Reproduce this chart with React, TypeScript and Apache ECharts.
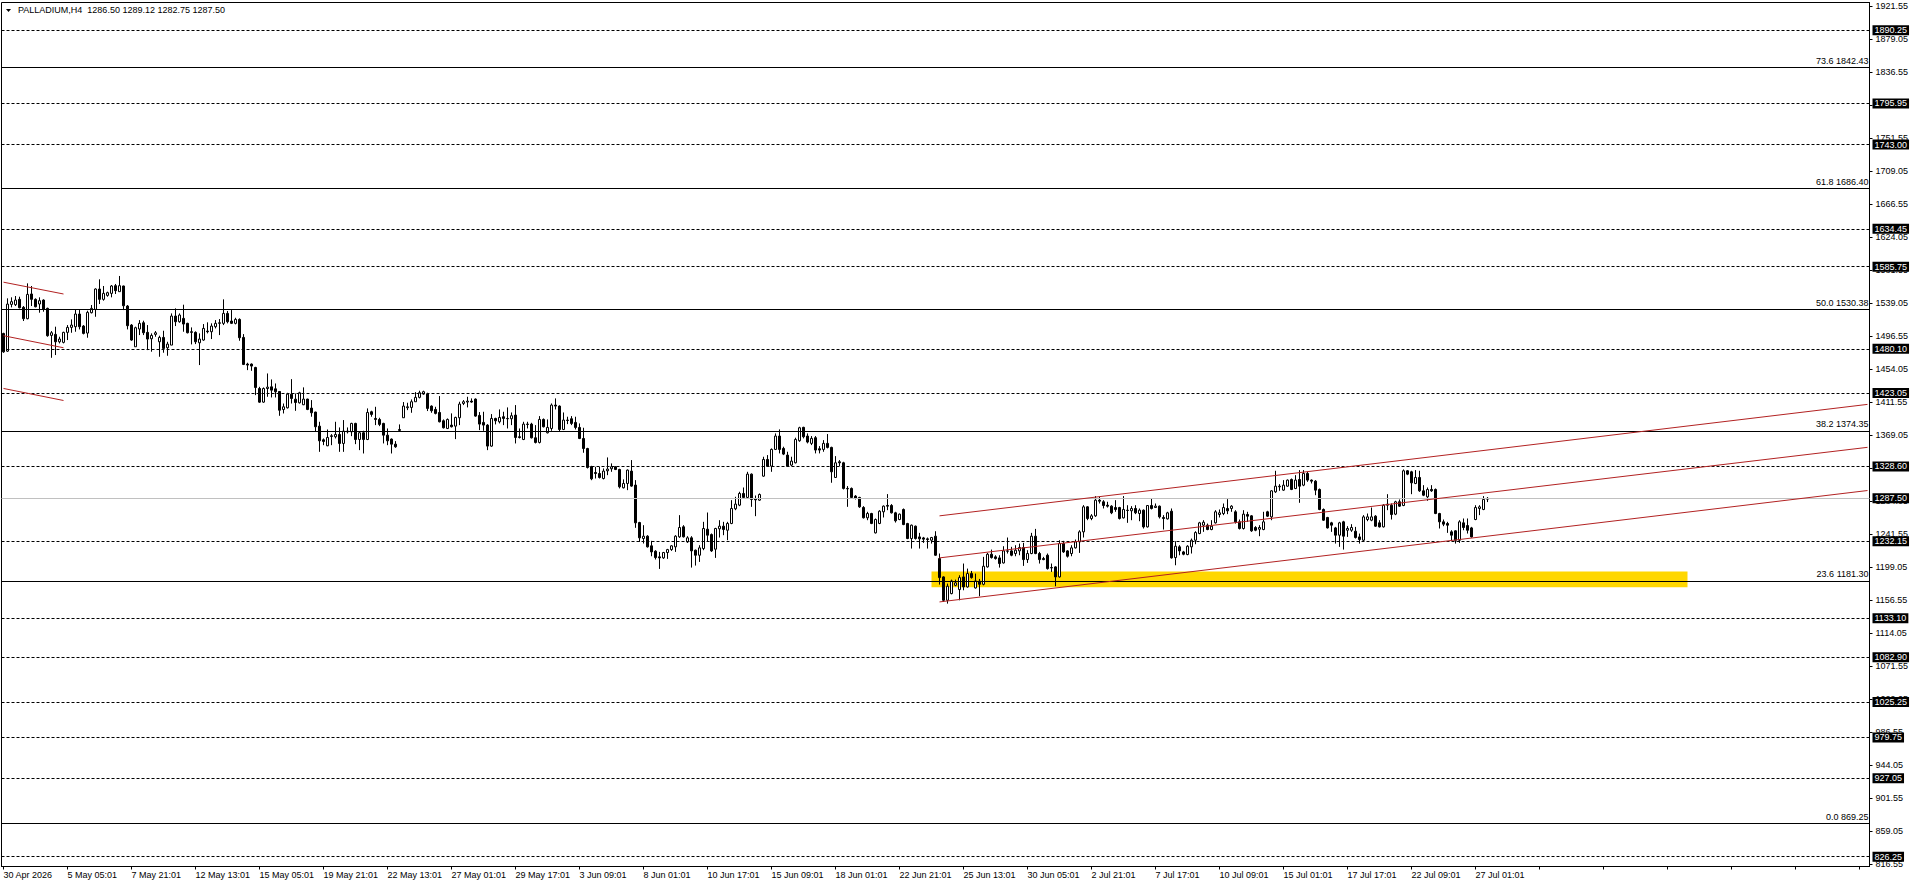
import React, { useEffect, useRef } from "react";
import * as echarts from "echarts";

// ---- axis texts ----
const xLabels = [
  "30 Apr 2026", "5 May 05:01", "7 May 21:01", "12 May 13:01", "15 May 05:01", "19 May 21:01",
  "22 May 13:01", "27 May 01:01", "29 May 17:01", "3 Jun 09:01", "8 Jun 01:01", "10 Jun 17:01",
  "15 Jun 09:01", "18 Jun 01:01", "22 Jun 21:01", "25 Jun 13:01", "30 Jun 05:01", "2 Jul 21:01",
  "7 Jul 17:01", "10 Jul 09:01", "15 Jul 01:01", "17 Jul 17:01", "22 Jul 09:01", "27 Jul 01:01",
];
const yTicks = [
  816.55, 859.05, 901.55, 944.05, 986.55, 1029.05, 1071.55, 1114.05, 1156.55, 1199.05, 1241.55,
  1284.05, 1326.55, 1369.05, 1411.55, 1454.05, 1496.55, 1539.05, 1581.55, 1624.05, 1666.55,
  1709.05, 1751.55, 1794.05, 1836.55, 1879.05, 1921.55,
];

// ---- H4 candles (0..371) ----
const opens = [
  1499.8,1477.0,1537.2,1536.8,1543.7,1533.4,1518.8,1550.6,1543.7,1537.7,1542.8,1532.1,1497.3,1498.6,1489.1,1488.3,1501.2,1507.6,1508.5,1524.8,1509.3,1500.3,1526.5,1530.8,1557.0,1543.7,1548.8,1551.4,1561.3,1553.6,1560.9,1535.1,1510.6,1482.7,1505.5,1513.6,1501.2,1493.0,1498.6,1489.1,1494.7,1481.4,1484.8,1522.2,1514.9,1519.2,1512.8,1502.0,1501.2,1487.8,1491.3,1502.9,1502.0,1508.5,1512.8,1512.8,1525.6,1515.8,1512.8,1517.9,1494.7,1460.4,1460.4,1456.0,1428.9,1411.4,1428.9,1431.1,1428.5,1425.1,1401.9,1404.1,1421.7,1415.2,1410.5,
  1408.0,1415.3,1403.7,1398.6,1380.5,1362.9,1355.2,1367.2,1366.8,1369.8,1358.2,1374.1,1373.2,1384.0,1363.3,1372.0,1363.3,1399.0,1390.4,1389.1,1384.0,1368.9,1363.8,1357.3,1374.9,1391.3,1404.2,1404.6,1411.9,1417.5,1421.8,1421.8,1406.3,1402.0,1398.1,1387.4,1377.5,1381.8,1380.5,1391.3,1409.7,1411.5,1412.7,1415.3,1394.3,1385.3,1381.8,1354.8,1390.4,1386.1,1392.6,1390.4,1390.0,1394.7,1366.8,1363.3,1383.1,1383.1,1365.5,1359.5,1389.1,1371.9,1377.5,1407.6,1406.3,1376.2,1388.3,1390.0,1385.3,1378.8,1364.6,1351.7,1328.5,1320.8,1319.5,
  1313.1,1323.0,1325.6,1328.2,1324.7,1301.1,1306.7,1322.6,1304.6,1256.4,1235.8,1238.8,1226.4,1219.5,1212.2,1210.9,1217.8,1221.6,1225.1,1238.0,1250.9,1231.5,1236.7,1220.8,1214.3,1222.9,1247.8,1240.9,1222.1,1248.3,1251.7,1246.5,1255.2,1274.1,1278.8,1293.8,1288.7,1318.7,1286.9,1285.2,1316.1,1337.6,1329.0,1350.5,1367.7,1351.8,1343.2,1330.3,1333.3,1361.7,1378.9,1367.7,1358.3,1365.6,1351.4,1350.5,1358.3,1353.1,1314.4,1334.6,1333.3,1300.3,1300.3,1290.4,1288.7,1275.8,1262.5,1268.0,1243.1,1255.2,1270.2,1278.4,1278.4,1268.9,1260.3,
  1273.2,1255.1,1235.8,1251.7,1237.9,1236.6,1235.4,1233.6,1238.8,1210.0,1186.4,1156.3,1164.9,1175.6,1170.1,1186.4,1173.5,1190.7,1172.2,1180.8,1176.9,1199.3,1215.6,1212.2,1210.9,1204.4,1219.9,1219.9,1216.5,1219.9,1224.2,1208.7,1216.5,1238.8,1216.5,1210.0,1214.3,1198.4,1199.3,1186.4,1229.3,1219.9,1216.5,1223.8,1231.5,1244.4,1276.6,1261.6,1265.0,1285.2,1283.1,1278.7,1277.5,1275.7,1275.7,1262.4,1272.3,1271.5,1274.5,1268.0,1272.3,1250.8,1278.3,1275.7,1277.5,1262.9,1261.1,1271.0,1211.3,1225.1,1218.6,1215.2,1225.1,1233.6,1242.2,
  1253.0,1253.0,1247.4,1256.0,1266.7,1268.0,1274.5,1274.5,1270.2,1257.3,1248.7,1266.7,1265.0,1250.0,1247.8,1247.4,1270.2,1263.7,1295.9,1302.4,1298.1,1303.2,1311.8,1300.2,1311.8,1304.5,1319.6,1311.0,1309.7,1299.0,1273.2,1262.9,1256.0,1249.5,1240.1,1257.3,1246.5,1246.5,1245.2,1237.9,1233.6,1260.3,1259.4,1264.6,1256.0,1250.8,1278.7,1278.7,1267.2,1283.1,1278.3,1323.0,1321.7,1306.7,1314.4,1297.2,1289.5,1299.0,1299.0,1268.0,1257.3,1255.1,1244.4,1245.7,1233.6,1256.0,1252.5,1249.5,1260.3,1274.5,1273.2,1286.5,
];
const highs = [
  1500.7,1545.0,1546.3,1548.0,1547.1,1535.1,1564.3,1560.9,1545.0,1546.3,1543.7,1533.0,1502.9,1508.5,1495.6,1502.0,1510.6,1517.9,1530.8,1529.9,1510.6,1529.1,1536.4,1557.9,1569.5,1560.9,1553.6,1562.2,1563.5,1573.8,1561.3,1536.4,1511.9,1508.5,1517.0,1516.2,1510.6,1499.9,1502.9,1496.9,1503.3,1489.1,1525.6,1532.1,1525.6,1536.8,1513.6,1507.6,1502.5,1499.9,1511.9,1514.1,1512.8,1517.0,1518.3,1543.7,1528.7,1529.9,1520.0,1519.2,1499.0,1462.1,1461.2,1456.9,1431.1,1430.3,1448.3,1440.6,1435.4,1425.5,1409.6,1423.4,1441.0,1422.5,1424.7,
  1430.4,1415.8,1414.0,1399.0,1386.1,1364.6,1376.2,1370.2,1386.1,1378.8,1388.3,1378.8,1384.8,1384.8,1374.1,1374.5,1403.3,1400.3,1405.4,1391.3,1384.8,1377.5,1364.6,1361.2,1382.7,1411.5,1410.6,1414.9,1424.3,1426.1,1426.1,1423.5,1407.2,1405.4,1419.2,1389.1,1390.4,1396.9,1392.6,1411.9,1414.0,1418.3,1416.2,1416.2,1398.6,1399.0,1383.1,1396.0,1391.3,1402.0,1399.0,1404.6,1398.1,1407.6,1377.5,1386.1,1386.1,1384.8,1381.8,1393.4,1390.4,1389.1,1409.7,1416.2,1407.2,1398.1,1392.6,1393.4,1392.6,1384.0,1378.4,1352.6,1329.4,1328.1,1328.1,
  1326.0,1340.2,1332.5,1329.0,1325.6,1311.9,1324.7,1336.8,1311.0,1257.3,1253.0,1240.1,1232.8,1220.8,1218.6,1218.6,1222.5,1227.2,1240.1,1265.9,1253.0,1238.8,1238.8,1221.6,1227.2,1257.3,1269.3,1242.3,1249.6,1259.4,1257.3,1257.3,1285.2,1289.5,1296.0,1301.5,1321.7,1319.6,1291.2,1293.8,1341.1,1343.2,1351.8,1371.1,1376.3,1354.0,1347.5,1341.1,1365.6,1379.7,1379.7,1371.1,1367.7,1367.7,1354.8,1362.5,1370.3,1354.0,1341.9,1336.8,1334.6,1303.3,1301.5,1291.7,1289.5,1277.5,1270.2,1268.9,1261.6,1272.3,1278.4,1293.0,1280.1,1270.2,1268.0,
  1274.5,1256.0,1253.8,1252.5,1243.1,1237.9,1237.1,1237.9,1245.2,1216.5,1187.2,1177.8,1182.9,1182.9,1188.5,1203.6,1197.1,1194.1,1190.7,1183.8,1212.2,1217.3,1221.6,1214.3,1214.3,1225.9,1237.1,1225.1,1227.2,1229.3,1230.2,1220.8,1243.1,1248.2,1218.6,1212.2,1216.5,1203.6,1200.1,1233.6,1232.8,1220.8,1227.2,1234.5,1246.5,1278.8,1277.5,1267.2,1290.4,1289.5,1285.2,1283.1,1278.7,1285.2,1276.6,1290.4,1278.7,1277.5,1278.7,1274.5,1273.2,1278.7,1287.3,1280.9,1278.3,1265.9,1270.2,1274.5,1232.3,1227.2,1219.9,1227.2,1235.8,1245.2,1257.3,
  1259.4,1255.1,1259.4,1272.3,1273.2,1280.9,1286.5,1278.7,1272.3,1260.3,1272.3,1270.2,1265.9,1251.7,1253.0,1270.2,1271.5,1298.1,1323.0,1305.8,1311.0,1311.8,1313.1,1317.4,1323.9,1323.9,1321.7,1311.8,1311.0,1300.2,1274.5,1263.7,1257.3,1250.8,1257.3,1258.6,1251.7,1254.3,1250.8,1242.2,1265.9,1268.0,1275.7,1265.9,1259.4,1280.0,1292.9,1280.9,1284.4,1286.1,1324.7,1323.9,1323.0,1323.9,1323.0,1304.5,1301.5,1304.5,1300.2,1268.9,1260.3,1257.3,1246.5,1246.5,1259.4,1261.6,1261.6,1250.8,1278.7,1278.7,1290.4,1289.12,
];
const lows = [
  1474.9,1476.0,1533.4,1535.1,1532.1,1515.8,1518.0,1535.1,1533.4,1526.5,1527.8,1495.6,1468.5,1472.0,1487.0,1487.0,1491.3,1500.7,1502.0,1505.0,1498.6,1494.3,1525.6,1521.3,1537.7,1542.0,1547.1,1546.3,1550.6,1553.6,1529.9,1505.0,1490.4,1482.7,1497.7,1497.7,1478.4,1476.3,1495.6,1469.8,1475.0,1471.1,1484.8,1509.3,1513.6,1502.0,1499.9,1485.7,1486.1,1459.1,1490.4,1499.9,1492.6,1506.3,1497.7,1510.6,1512.8,1511.9,1511.5,1490.4,1459.1,1452.6,1451.7,1420.4,1410.5,1410.5,1418.3,1417.4,1417.4,1393.8,1396.8,1403.2,1409.6,1400.2,1409.6,
  1407.6,1401.1,1392.6,1373.2,1347.4,1356.0,1354.7,1356.0,1364.6,1347.4,1347.4,1371.1,1367.6,1357.3,1349.6,1345.3,1362.5,1392.6,1381.8,1380.5,1358.2,1356.0,1345.3,1352.6,1374.5,1391.3,1401.1,1397.7,1411.9,1416.2,1420.9,1399.9,1397.7,1395.6,1385.3,1377.5,1376.7,1378.8,1363.8,1381.8,1407.6,1404.6,1410.6,1392.6,1375.4,1374.5,1349.6,1353.9,1382.7,1384.0,1381.8,1377.5,1381.8,1358.2,1364.6,1362.5,1377.5,1364.6,1358.2,1358.2,1378.8,1371.1,1374.5,1402.0,1373.2,1375.4,1383.1,1381.8,1376.2,1363.8,1346.2,1326.0,1310.9,1313.1,1313.1,
  1311.9,1317.4,1321.7,1323.9,1300.3,1300.3,1298.1,1302.4,1249.6,1231.5,1229.4,1224.2,1213.0,1208.8,1196.7,1209.6,1209.6,1219.9,1218.6,1236.7,1237.1,1230.2,1198.4,1201.0,1205.7,1220.8,1231.5,1218.6,1210.9,1237.1,1240.1,1233.7,1254.3,1272.3,1277.5,1287.4,1287.4,1276.6,1264.6,1284.4,1315.3,1328.2,1321.7,1349.7,1345.4,1343.2,1328.2,1329.0,1332.5,1360.4,1364.7,1358.3,1356.1,1345.4,1345.4,1347.5,1351.8,1307.6,1314.0,1329.0,1299.0,1276.6,1287.4,1286.1,1275.3,1261.6,1259.4,1254.3,1242.3,1254.3,1262.9,1272.3,1268.0,1256.4,1259.4,
  1253.0,1235.0,1222.9,1234.5,1222.9,1230.2,1222.9,1229.3,1213.5,1176.5,1154.2,1152.0,1164.0,1174.4,1156.3,1169.2,1172.6,1184.2,1171.4,1161.5,1175.6,1198.4,1210.0,1208.7,1198.4,1203.6,1216.5,1213.0,1213.0,1214.3,1200.6,1204.4,1215.6,1215.6,1203.6,1207.9,1195.8,1192.8,1174.4,1185.5,1217.3,1211.3,1213.0,1222.9,1217.3,1237.1,1259.4,1259.4,1263.7,1280.9,1274.5,1275.7,1267.2,1270.2,1260.3,1261.6,1256.0,1259.4,1267.2,1258.1,1248.7,1250.0,1273.2,1275.3,1261.6,1247.4,1260.3,1210.0,1201.4,1214.3,1214.3,1214.3,1216.5,1228.5,1241.4,
  1244.4,1246.5,1246.5,1255.1,1262.9,1265.9,1267.2,1270.2,1255.1,1247.4,1247.4,1257.3,1244.4,1245.2,1238.8,1246.5,1263.7,1259.4,1294.6,1297.2,1297.2,1302.4,1298.1,1299.4,1281.8,1303.2,1308.8,1306.7,1291.6,1272.3,1258.6,1248.7,1244.4,1229.3,1225.1,1221.6,1237.9,1244.4,1235.8,1229.3,1231.5,1258.1,1258.1,1250.8,1250.0,1250.0,1272.3,1260.3,1265.9,1276.6,1277.5,1317.4,1292.9,1305.8,1295.9,1290.4,1284.4,1295.9,1267.2,1248.7,1251.7,1243.1,1232.8,1229.3,1230.2,1246.5,1242.2,1237.1,1259.4,1265.9,1272.3,1282.75,
];
const closes = [
  1476.1,1537.6,1540.7,1542.8,1532.9,1518.8,1550.1,1543.7,1534.2,1542.0,1530.8,1496.9,1500.7,1489.1,1492.6,1501.2,1507.6,1510.6,1524.8,1508.5,1499.9,1526.9,1532.1,1557.0,1543.7,1551.4,1552.3,1560.9,1554.9,1561.3,1535.5,1509.8,1491.3,1507.2,1512.8,1500.7,1492.6,1497.3,1500.7,1494.7,1480.5,1486.1,1522.2,1514.9,1523.5,1511.9,1500.7,1501.2,1489.1,1492.6,1506.3,1502.0,1509.3,1512.8,1513.6,1525.6,1514.9,1512.8,1517.9,1494.3,1459.9,1459.1,1457.8,1430.2,1411.4,1428.9,1430.7,1426.8,1424.7,1401.0,1405.4,1421.7,1416.1,1410.9,1423.4,
  1415.3,1402.0,1397.7,1379.7,1361.6,1360.8,1365.9,1368.1,1369.8,1358.2,1374.1,1373.2,1384.0,1363.3,1372.0,1363.3,1398.1,1395.6,1389.1,1382.7,1368.9,1361.6,1357.3,1353.9,1376.2,1406.3,1405.4,1411.9,1417.5,1423.5,1424.8,1403.3,1400.3,1396.9,1386.1,1378.4,1389.1,1379.7,1391.7,1408.9,1411.9,1412.7,1411.5,1393.4,1383.1,1381.8,1354.8,1390.4,1387.4,1391.7,1390.4,1390.0,1393.9,1365.9,1365.9,1383.1,1382.7,1365.5,1359.5,1389.1,1379.7,1378.8,1407.6,1406.3,1376.2,1388.3,1387.8,1384.0,1378.8,1364.6,1351.7,1327.3,1312.7,1319.5,1314.4,
  1322.6,1325.2,1328.2,1324.7,1302.4,1306.7,1323.9,1303.3,1256.0,1236.7,1238.8,1225.1,1218.6,1211.3,1210.9,1217.8,1221.6,1226.4,1238.8,1250.0,1238.0,1236.7,1219.9,1214.3,1223.8,1248.7,1240.1,1219.9,1248.7,1251.7,1247.4,1255.2,1274.5,1280.1,1293.8,1288.7,1318.7,1286.1,1285.6,1292.5,1337.6,1329.0,1350.5,1367.7,1350.5,1344.5,1329.0,1335.5,1363.4,1378.4,1366.8,1360.0,1364.7,1349.7,1349.7,1358.3,1353.1,1321.7,1333.3,1333.3,1300.3,1299.8,1288.7,1287.4,1276.6,1262.5,1268.0,1255.2,1260.3,1271.0,1277.5,1277.5,1268.9,1258.6,1267.2,
  1253.8,1235.8,1253.0,1235.8,1235.4,1235.0,1234.5,1237.1,1214.3,1185.5,1156.3,1174.4,1181.2,1178.7,1185.5,1173.5,1190.7,1185.5,1181.2,1176.9,1200.1,1215.6,1211.3,1210.0,1203.6,1219.9,1219.5,1214.3,1220.8,1224.2,1208.7,1216.5,1238.8,1216.5,1208.7,1208.7,1197.1,1198.0,1186.4,1229.3,1218.6,1213.0,1223.8,1231.5,1244.4,1276.6,1261.6,1265.0,1285.2,1283.9,1278.3,1277.5,1268.9,1273.2,1261.6,1273.2,1271.9,1274.5,1268.9,1272.3,1250.8,1278.3,1274.5,1277.5,1263.7,1261.6,1268.9,1210.9,1225.9,1219.9,1215.6,1225.9,1233.6,1243.5,1256.0,
  1256.8,1247.4,1251.7,1270.2,1268.9,1275.7,1271.5,1277.5,1257.3,1248.7,1267.2,1264.6,1245.7,1246.5,1250.0,1257.3,1264.6,1297.2,1303.2,1303.2,1304.5,1311.0,1299.0,1311.0,1303.2,1319.6,1311.0,1309.7,1298.1,1273.2,1259.4,1249.5,1253.0,1240.1,1256.0,1238.8,1248.7,1250.0,1237.1,1234.5,1263.7,1263.7,1263.7,1251.7,1250.8,1278.7,1280.0,1266.7,1283.1,1277.5,1323.0,1318.7,1307.5,1314.4,1297.2,1291.6,1298.9,1297.2,1268.0,1257.3,1254.3,1253.0,1240.1,1233.6,1257.3,1250.0,1246.5,1237.9,1275.7,1276.6,1286.1,1287.5,
];

// ---- horizontal levels ----
const dashedLevels = [1890.25, 1795.95, 1743.0, 1634.45, 1585.75, 1480.1, 1423.05, 1328.6, 1232.15, 1133.1, 1082.9, 1025.25, 979.75, 927.05, 826.25];
const fibRatios = ["73.6", "61.8", "50.0", "38.2", "23.6", "0.0"];
const fibPrices = [1842.43, 1686.4, 1530.38, 1374.35, 1181.3, 869.25];
const lastPrice = 1287.5;

// ---- drawn trend lines: [barIndex, price] ----
const channelUp = [[234, 1265.0], [466, 1408.5]];
const channelMid = [[234, 1210.9], [466, 1353.2]];
const channelLow = [[234, 1154.2], [466, 1297.6]];
const earlyTop = [[0, 1565.8], [15, 1550.6]];
const earlyMid = [[0, 1496.9], [15, 1481.4]];
const earlyLow = [[0, 1429.0], [15, 1413.5]];

// ---- support zone ----
const zoneFrom = 232;
const zoneTo = 421;
const zoneTop = 1193.3;
const zoneBottom = 1173.2;

const SLOTS = 467;
const FONT = "Liberation Sans";

export default function App() {
  const ref = useRef<HTMLDivElement>(null);

  useEffect(() => {
    const chart = echarts.init(ref.current!, null, { renderer: "svg" });
    const cats = Array.from({ length: SLOTS }, (_, i) => String(i));
    const candles = opens.map((o, i) => [o, closes[i], lows[i], highs[i]]);

    const boxLabel = (v: number) => ({
      show: true,
      position: "end",
      formatter: v.toFixed(2),
      color: "#fff",
      backgroundColor: "#000",
      padding: [1, 2, 0, 2],
      fontSize: 9,
      lineHeight: 9,
      fontFamily: FONT,
      distance: 3,
    });

    const markData: any[] = [
      ...dashedLevels.map((v) => ({
        yAxis: v,
        lineStyle: { type: [3, 2], color: "#000", width: 1 },
        label: boxLabel(v),
      })),
      ...fibPrices.map((v, i) => ({
        yAxis: v,
        lineStyle: { type: "solid", color: "#000", width: 1 },
        label: {
          show: true,
          position: "insideEndTop",
          formatter: `${fibRatios[i]} ${v.toFixed(2)}`,
          color: "#000",
          fontSize: 9,
          fontFamily: FONT,
          distance: [1, 2],
        },
      })),
      {
        yAxis: lastPrice,
        lineStyle: { type: "solid", color: "#C0C0C0", width: 1 },
        label: boxLabel(lastPrice),
      },
    ];

    const trend = (data: number[][]) => ({
      type: "line",
      data,
      symbol: "none",
      silent: true,
      z: 6,
      lineStyle: { color: "#B22222", width: 1 },
    });

    chart.setOption({
      animation: false,
      backgroundColor: "#fff",
      grid: {
        left: 1.5,
        right: 46.5,
        top: 2.5,
        bottom: 21.5,
        show: true,
        borderColor: "#000",
        borderWidth: 1,
        backgroundColor: "#fff",
      },
      xAxis: {
        type: "category",
        data: cats,
        boundaryGap: true,
        axisLine: { show: true, lineStyle: { color: "#000", width: 1 } },
        axisTick: { show: true, interval: 15, alignWithLabel: true, length: 3, lineStyle: { color: "#000" } },
        axisLabel: {
          interval: 15,
          align: "left",
          margin: 4,
          color: "#000",
          fontSize: 9,
          fontFamily: FONT,
          formatter: (v: string) => {
            const n = Number(v);
            return n % 16 === 0 && xLabels[n / 16] ? xLabels[n / 16] : "";
          },
        },
        splitLine: { show: false },
      },
      yAxis: {
        type: "value",
        position: "right",
        min: 813.6,
        max: 1925.85,
        scale: true,
        splitLine: { show: false },
        axisLine: { show: true, lineStyle: { color: "#000", width: 1 } },
        axisTick: { show: true, length: 3, customValues: yTicks, lineStyle: { color: "#000" } },
        axisLabel: {
          customValues: yTicks,
          formatter: (v: number) => v.toFixed(2),
          color: "#000",
          fontSize: 9,
          fontFamily: FONT,
          margin: 6,
        },
      },
      graphic: [
        { type: "polygon", shape: { points: [[6, 9], [11, 9], [8.5, 12]] }, style: { fill: "#000" } },
        {
          type: "text",
          left: 18,
          top: 5,
          style: {
            text: "PALLADIUM,H4  1286.50 1289.12 1282.75 1287.50",
            font: `9px "${FONT}"`,
            fill: "#000",
          },
        },
      ],
      series: [
        {
          type: "line",
          data: [],
          z: 1,
          silent: true,
          markArea: {
            silent: true,
            itemStyle: { color: "#FFD700" },
            data: [[{ xAxis: zoneFrom, yAxis: zoneTop }, { xAxis: zoneTo, yAxis: zoneBottom }]],
          },
        },
        {
          type: "line",
          data: [],
          z: 2,
          silent: true,
          markLine: {
            silent: true,
            symbol: ["none", "none"],
            data: markData,
          },
        },
        {
          type: "candlestick",
          data: candles,
          barWidth: 2,
          z: 4,
          silent: true,
          itemStyle: {
            color: "#fff",
            color0: "#000",
            borderColor: "#000",
            borderColor0: "#000",
            borderWidth: 1,
          },
        },
        trend(channelUp),
        trend(channelMid),
        trend(channelLow),
        trend(earlyTop),
        trend(earlyMid),
        trend(earlyLow),
      ],
    });

    return () => chart.dispose();
  }, []);

  return (
    <div
      ref={ref}
      style={{ position: "fixed", left: 0, top: 0, width: 1916, height: 888, background: "#fff" }}
    />
  );
}
